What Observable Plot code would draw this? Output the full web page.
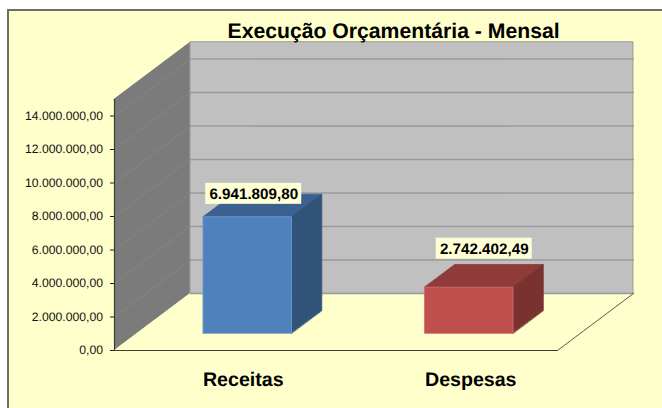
<!DOCTYPE html>
<html lang="pt-BR">
<head>
<meta charset="utf-8">
<script src="https://cdn.jsdelivr.net/npm/d3@7"></script>
<script src="https://cdn.jsdelivr.net/npm/@observablehq/plot@0.6"></script>
<style>
  html, body { margin: 0; padding: 0; background: #fff; }
  #page { position: relative; width: 662px; height: 408px; overflow: hidden; }
  #panel { position: absolute; left: 7px; top: 9px; right: 0; bottom: 0; box-sizing: border-box;
           background: #ffffcc; border-left: 2px solid #6e6e62; border-top: 2px solid #6e6e62; }
  #chart { position: absolute; left: 0; top: 0; }
  #chart svg { background: transparent; display: block; text-rendering: geometricPrecision; }
</style>
</head>
<body>
<div id="page"><div id="panel"></div><div id="chart"></div></div>
<script>
// ---- data
const title = "Execução Orçamentária - Mensal";
const categories = ["Receitas", "Despesas"];
const values = [6941809.80, 2742402.49];
const tickValues = [0, 2e6, 4e6, 6e6, 8e6, 1e7, 1.2e7, 1.4e7];
const wallTop = 1.5e7;

// ---- oblique projection, in scale units (category slots and reais)
const depthX = 0.343;      // how far the full depth shifts along x
const depthV = 3.405e6;    // how far the full depth shifts along y
const barWidth = 0.4;
const barFront = 0.296, barBack = 0.694;
const P = (x, v, d) => ({x: x + depthX * d, v: v + depthV * d});

const barColors = [
  {front: "#4f81bd", top: "#3b6190", side: "#325378", edge: "#6f9ad0"},
  {front: "#c0504d", top: "#8e3b39", side: "#7a3231", edge: "#cf6f6c"}
];
const labelNudge = [[6, -23.5], [15, -39]];
const categoryNudge = [18, 24];

const fmt = new Intl.NumberFormat("pt-BR", {minimumFractionDigits: 2, maximumFractionDigits: 2});
const quad = (a, b, c, d) => [
  {x1: a.x, y1: a.v, x2: d.x, y2: d.v},
  {x1: b.x, y1: b.v, x2: c.x, y2: c.v}
];
const poly = (a, b, c, d, style) => Plot.area(quad(a, b, c, d), {x1: "x1", y1: "y1", x2: "x2", y2: "y2", ...style});
const seg = (a, b, style) => Plot.line([a, b], {x: "x", y: "v", ...style});

const marks = [];

// side wall and back wall
marks.push(poly(P(0,0,0), P(0,wallTop,0), P(0,wallTop,1), P(0,0,1), {fill: "#7b7b7b"}));
marks.push(poly(P(0,0,1), P(0,wallTop,1), P(2,wallTop,1), P(2,0,1), {fill: "#c0c0c0", stroke: "#9a9a9a", strokeWidth: 1}));
for (const t of tickValues) {
  if (t > 0) marks.push(seg(P(0,t,0), P(0,t,1), {stroke: "#868686", strokeWidth: 1}));
  marks.push(seg(P(0,t,1), P(2,t,1), {stroke: "#9a9a9a", strokeWidth: 1.4}));
}

// floor edges
marks.push(seg(P(0,0,0), P(2,0,0), {stroke: "#3c3c32", strokeWidth: 1.2}));
marks.push(seg(P(2,0,0), P(2,0,1), {stroke: "#5a5a50", strokeWidth: 1}));

// bars
categories.forEach((c, i) => {
  const x0 = i + 0.5 - barWidth / 2, x1 = i + 0.5 + barWidth / 2, v = values[i], col = barColors[i];
  marks.push(poly(P(x0,v,barFront), P(x0,v,barBack), P(x1,v,barBack), P(x1,v,barFront), {fill: col.top, stroke: col.top, strokeWidth: 0.8}));
  marks.push(poly(P(x1,0,barFront), P(x1,v,barFront), P(x1,v,barBack), P(x1,0,barBack), {fill: col.side, stroke: col.side, strokeWidth: 0.8}));
  marks.push(poly(P(x0,0,barFront), P(x0,v,barFront), P(x1,v,barFront), P(x1,0,barFront), {fill: col.front, stroke: col.edge, strokeWidth: 0.8}));
});

// value labels with their small pale boxes
const anchorOf = i => P(i + 0.5, values[i], barFront);
categories.forEach((c, i) => {
  const a = anchorOf(i), [dx, dy] = labelNudge[i];
  marks.push(Plot.rect([a], {x1: "x", x2: "x", y1: "v", y2: "v", fill: "#ffffd6",
    insetLeft: -48 + dx, insetRight: -48 - dx, insetTop: -10.5 + dy, insetBottom: -10.5 - dy}));
  marks.push(Plot.text([a], {x: "x", y: "v", dx, dy, text: () => fmt.format(values[i]),
    fontSize: 15.2, fontWeight: "bold", fill: "#000"}));
  // category label, a little right of its slot
  marks.push(Plot.text([c], {x: i + 0.5, y: 0, text: d => d, dx: categoryNudge[i], dy: 29,
    fontSize: 19.6, fontWeight: "bold", fill: "#000"}));
});

// title
marks.push(Plot.text([title], {frameAnchor: "top-left", text: d => d, dx: 113, dy: -93,
  textAnchor: "start", fontSize: 21.2, fontWeight: "bold", fill: "#000"}));

// value axis
marks.push(seg(P(0,0,0), P(0,wallTop,0), {stroke: "#3c3c32", strokeWidth: 1.2}));
marks.push(Plot.axisY(tickValues, {anchor: "left", tickSize: 4, tickPadding: 7.5, tickFormat: d => fmt.format(d), fontSize: 12.2, stroke: "#222", fill: "#111"}));

const chart = Plot.plot({
  width: 662, height: 408,
  marginLeft: 114, marginRight: 105, marginTop: 115.5, marginBottom: 58,
  style: {fontFamily: "'Liberation Sans', Arial, sans-serif", background: "transparent", overflow: "visible"},
  x: {domain: [0, 2], axis: null},
  y: {domain: [0, 1.4e7], nice: false, zero: false, grid: false},
  marks
});
document.getElementById("chart").append(chart);
</script>
</body>
</html>
